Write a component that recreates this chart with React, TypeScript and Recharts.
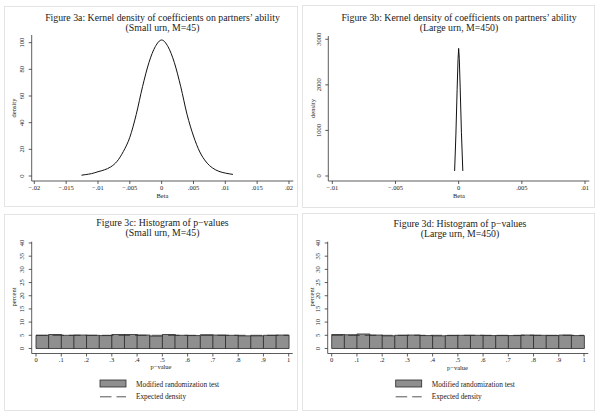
import React from 'react';
import { LineChart, ComposedChart, Line, Bar, XAxis, YAxis } from 'recharts';

const FONT = '"Liberation Serif", "Times New Roman", Times, serif';

// ---- Figure 3a: kernel density, small urn ----
const betaSmall = [-0.0126, -0.012, -0.011, -0.01, -0.009, -0.008, -0.007, -0.006, -0.005, -0.004, -0.003, -0.002, -0.001, 0, 0.001, 0.002, 0.003, 0.004, 0.005, 0.006, 0.007, 0.008, 0.009, 0.01, 0.0112];
const densitySmall = [0.6, 1.0, 1.8, 3.2, 4.6, 6.8, 11, 18.5, 29, 46, 67, 85, 97, 102, 97, 85, 67, 46, 30, 18, 10.5, 6, 3.5, 2.2, 1.2];
const betaSmallTicks = [-0.02, -0.015, -0.01, -0.005, 0, 0.005, 0.01, 0.015, 0.02];
const betaSmallTickLabels = ['\u2212.02', '\u2212.015', '\u2212.01', '\u2212.005', '0', '.005', '.01', '.015', '.02'];
const densitySmallTicks = [0, 20, 40, 60, 80, 100];

// ---- Figure 3b: kernel density, large urn ----
const betaLarge = [-0.00032, -0.00022, -0.00012, -0.00005, 0, 0.00005, 0.00012, 0.00022, 0.00033];
const densityLarge = [110, 900, 1900, 2550, 2800, 2580, 1950, 950, 110];
const betaLargeTicks = [-0.01, -0.005, 0, 0.005, 0.01];
const betaLargeTickLabels = ['\u2212.01', '\u2212.005', '0', '.005', '.01'];
const densityLargeTicks = [0, 1000, 2000, 3000];

// ---- Figures 3c / 3d: histograms of p-values ----
const binStarts = [0, 0.05, 0.1, 0.15, 0.2, 0.25, 0.3, 0.35, 0.4, 0.45, 0.5, 0.55, 0.6, 0.65, 0.7, 0.75, 0.8, 0.85, 0.9, 0.95];
const pctSmall = [5.0, 5.3, 5.0, 5.1, 5.0, 4.9, 5.3, 5.3, 5.1, 4.7, 5.3, 5.0, 4.9, 5.2, 5.1, 5.0, 4.8, 4.8, 5.0, 5.1];
const pctLarge = [5.3, 5.2, 5.5, 5.1, 4.8, 5.0, 5.1, 4.9, 4.8, 4.9, 5.0, 5.0, 4.9, 4.9, 4.9, 5.1, 5.0, 4.9, 5.1, 4.9];
const expectedP = [0, 1];
const expectedPct = [5, 5];
const pTicks = [0, 0.1, 0.2, 0.3, 0.4, 0.5, 0.6, 0.7, 0.8, 0.9, 1];
const pTickLabels = ['0', '.1', '.2', '.3', '.4', '.5', '.6', '.7', '.8', '.9', '1'];
const percentTicks = [0, 5, 10, 15, 20, 25, 30, 35, 40];
const seriesNames = ['Modified randomization test', 'Expected density'];

const titlesA = ['Figure 3a: Kernel density of coefficients on partners\u2019 ability', '(Small urn, M=45)'];
const titlesB = ['Figure 3b: Kernel density of coefficients on partners\u2019 ability', '(Large urn, M=450)'];
const titlesC = ['Figure 3c: Histogram of p\u2212values', '(Small urn, M=45)'];
const titlesD = ['Figure 3d: Histogram of p\u2212values', '(Large urn, M=450)'];

const densitySmallData = betaSmall.map((b, i) => ({ beta: b, density: densitySmall[i] }));
const densityLargeData = betaLarge.map((b, i) => ({ beta: b, density: densityLarge[i] }));
const histSmallData = binStarts.map((b, i) => ({ bin: String(b), pct: pctSmall[i] }));
const histLargeData = binStarts.map((b, i) => ({ bin: String(b), pct: pctLarge[i] }));
const expectedData = expectedP.map((p, i) => ({ p, pct: expectedPct[i] }));

const TXT = '#1a1a1a';
const AX = '#333';
const BAR_FILL = '#8f8f8f';
const BAR_STROKE = '#2a2a2a';

const YTick = (props: any) => {
  const { x, y, payload } = props;
  return (
    <text x={x} y={y} transform={`rotate(-90 ${x} ${y})`} textAnchor="middle" fontSize={6.5} fontFamily={FONT} fill={TXT}>
      {payload.value}
    </text>
  );
};

const makeXTick = (ticks: number[], labels: string[]) => (props: any) => {
  const { x, y, payload } = props;
  const idx = ticks.indexOf(payload.value);
  return (
    <text x={x} y={y + 5.8} textAnchor="middle" fontSize={6.5} fontFamily={FONT} fill={TXT}>
      {idx >= 0 ? labels[idx] : payload.value}
    </text>
  );
};

const axisLine = { stroke: AX, strokeWidth: 0.8 };
const tickLine = { stroke: AX, strokeWidth: 0.8 };

const Title = ({ x, y, lines }: { x: number; y: number; lines: string[] }) => (
  <g>
    <text x={x} y={y} textAnchor="middle" fontSize={9.8} fontFamily={FONT} fill={TXT}>{lines[0]}</text>
    <text x={x} y={y + 10} textAnchor="middle" fontSize={9.8} fontFamily={FONT} fill={TXT}>{lines[1]}</text>
  </g>
);

const VLabel = ({ x, y, text }: { x: number; y: number; text: string }) => (
  <text x={x} y={y} transform={`rotate(-90 ${x} ${y})`} textAnchor="middle" fontSize={6.5} fontFamily={FONT} fill={TXT}>{text}</text>
);

const HLabel = ({ x, y, text }: { x: number; y: number; text: string }) => (
  <text x={x} y={y} textAnchor="middle" fontSize={6.5} fontFamily={FONT} fill={TXT}>{text}</text>
);

const LegendBlock = ({ x, y }: { x: number; y: number }) => (
  <g>
    <rect x={x} y={y} width={26} height={7} fill={BAR_FILL} stroke={BAR_STROKE} strokeWidth={0.8} />
    <text x={x + 36} y={y + 6.5} fontSize={7.3} fontFamily={FONT} fill={TXT}>{seriesNames[0]}</text>
    <line x1={x} x2={x + 26} y1={y + 16.8} y2={y + 16.8} stroke={BAR_STROKE} strokeWidth={0.8} strokeDasharray="11.5 5" />
    <text x={x + 36} y={y + 18.8} fontSize={7.3} fontFamily={FONT} fill={TXT}>{seriesNames[1]}</text>
  </g>
);

export default function App() {
  return (
    <div style={{ position: 'absolute', left: 0, top: 0, width: 602, height: 417, background: '#fff' }}>
      <svg style={{ position: 'absolute', left: 0, top: 0 }} width={602} height={417}>
        <rect x={4.5} y={6.5} width={293} height={200} fill="#fff" stroke="#e4e4e4" />
        <rect x={302.5} y={5.5} width={292} height={202} fill="#fff" stroke="#e4e4e4" />
        <rect x={4.5} y={214.5} width={293} height={196} fill="#fff" stroke="#e4e4e4" />
        <rect x={302.5} y={213.5} width={292} height={197} fill="#fff" stroke="#e4e4e4" />
      </svg>

      {/* Figure 3a */}
      <div style={{ position: 'absolute', left: 0, top: 0 }}>
        <LineChart width={300} height={210} data={densitySmallData} margin={{ top: 35, right: 6.7, bottom: 9, left: 11.7 }}>
          <XAxis type="number" dataKey="beta" domain={[-0.02041, 0.02068]} allowDataOverflow ticks={betaSmallTicks} interval={0}
            height={20} tickSize={3} tickMargin={0} axisLine={axisLine} tickLine={tickLine}
            tick={makeXTick(betaSmallTicks, betaSmallTickLabels)} />
          <YAxis type="number" domain={[-3.75, 105.75]} allowDataOverflow ticks={densitySmallTicks} interval={0}
            width={20} tickSize={3} tickMargin={4.5} axisLine={axisLine} tickLine={tickLine} tick={<YTick />} />
          <Line dataKey="density" type="monotone" stroke="#111" strokeWidth={1} dot={false} isAnimationActive={false} />
        </LineChart>
      </div>

      {/* Figure 3b */}
      <div style={{ position: 'absolute', left: 300, top: 0 }}>
        <LineChart width={302} height={210} data={densityLargeData} margin={{ top: 36, right: 12.7, bottom: 9, left: 8.3 }}>
          <XAxis type="number" dataKey="beta" domain={[-0.010317, 0.01034]} allowDataOverflow ticks={betaLargeTicks} interval={0}
            height={20} tickSize={3} tickMargin={0} axisLine={axisLine} tickLine={tickLine}
            tick={makeXTick(betaLargeTicks, betaLargeTickLabels)} />
          <YAxis type="number" domain={[-110, 3072]} allowDataOverflow ticks={densityLargeTicks} interval={0}
            width={20} tickSize={3} tickMargin={4.5} axisLine={axisLine} tickLine={tickLine} tick={<YTick />} />
          <Line dataKey="density" type="linear" stroke="#111" strokeWidth={1} dot={false} isAnimationActive={false} />
        </LineChart>
      </div>

      {/* Figure 3c */}
      <div style={{ position: 'absolute', left: 0, top: 210 }}>
        <ComposedChart width={300} height={207} data={histSmallData} barCategoryGap={0} barGap={0}
          margin={{ top: 31.7, right: 7.3, bottom: 43.5, left: 11.7 }}>
          <XAxis xAxisId="cat" dataKey="bin" type="category" hide height={0} padding={{ left: 4.3, right: 4 }} />
          <XAxis xAxisId="num" dataKey="p" type="number" domain={[0, 1]} allowDataOverflow ticks={pTicks} interval={0}
            padding={{ left: 4.3, right: 4 }} height={20} tickSize={3} tickMargin={0} axisLine={axisLine} tickLine={tickLine}
            tick={makeXTick(pTicks, pTickLabels)} />
          <YAxis type="number" domain={[-1.9, 40.49]} allowDataOverflow ticks={percentTicks} interval={0}
            width={20} tickSize={3} tickMargin={4.5} axisLine={axisLine} tickLine={tickLine} tick={<YTick />} />
          <Bar xAxisId="cat" dataKey="pct" name={seriesNames[0]} fill={BAR_FILL} stroke={BAR_STROKE} strokeWidth={0.8} isAnimationActive={false} />
          <Line xAxisId="num" data={expectedData} dataKey="pct" name={seriesNames[1]} type="linear" stroke={BAR_STROKE}
            strokeWidth={0.8} strokeDasharray="11.5 5" dot={false} isAnimationActive={false} />
        </ComposedChart>
      </div>

      {/* Figure 3d */}
      <div style={{ position: 'absolute', left: 300, top: 210 }}>
        <ComposedChart width={302} height={207} data={histLargeData} barCategoryGap={0} barGap={0}
          margin={{ top: 31.7, right: 13.7, bottom: 43.5, left: 7.7 }}>
          <XAxis xAxisId="cat" dataKey="bin" type="category" hide height={0} padding={{ left: 4, right: 4.3 }} />
          <XAxis xAxisId="num" dataKey="p" type="number" domain={[0, 1]} allowDataOverflow ticks={pTicks} interval={0}
            padding={{ left: 4, right: 4.3 }} height={20} tickSize={3} tickMargin={0} axisLine={axisLine} tickLine={tickLine}
            tick={makeXTick(pTicks, pTickLabels)} />
          <YAxis type="number" domain={[-1.9, 40.49]} allowDataOverflow ticks={percentTicks} interval={0}
            width={20} tickSize={3} tickMargin={4.5} axisLine={axisLine} tickLine={tickLine} tick={<YTick />} />
          <Bar xAxisId="cat" dataKey="pct" name={seriesNames[0]} fill={BAR_FILL} stroke={BAR_STROKE} strokeWidth={0.8} isAnimationActive={false} />
          <Line xAxisId="num" data={expectedData} dataKey="pct" name={seriesNames[1]} type="linear" stroke={BAR_STROKE}
            strokeWidth={0.8} strokeDasharray="11.5 5" dot={false} isAnimationActive={false} />
        </ComposedChart>
      </div>

      <svg style={{ position: 'absolute', left: 0, top: 0, pointerEvents: 'none' }} width={602} height={417}>
        <Title x={162.5} y={21} lines={titlesA} />
        <Title x={459} y={21} lines={titlesB} />
        <Title x={162.5} y={226} lines={titlesC} />
        <Title x={460} y={227} lines={titlesD} />
        <VLabel x={15.5} y={108} text="density" />
        <HLabel x={162.5} y={198} text="Beta" />
        <VLabel x={315} y={108.5} text="density" />
        <HLabel x={459} y={198} text="Beta" />
        <VLabel x={16} y={297} text="percent" />
        <HLabel x={161} y={369} text={'p\u2212value'} />
        <VLabel x={314} y={297} text="percent" />
        <HLabel x={457.5} y={370} text={'p\u2212value'} />
        <LegendBlock x={100} y={380} />
        <LegendBlock x={395.7} y={380} />
      </svg>
    </div>
  );
}
